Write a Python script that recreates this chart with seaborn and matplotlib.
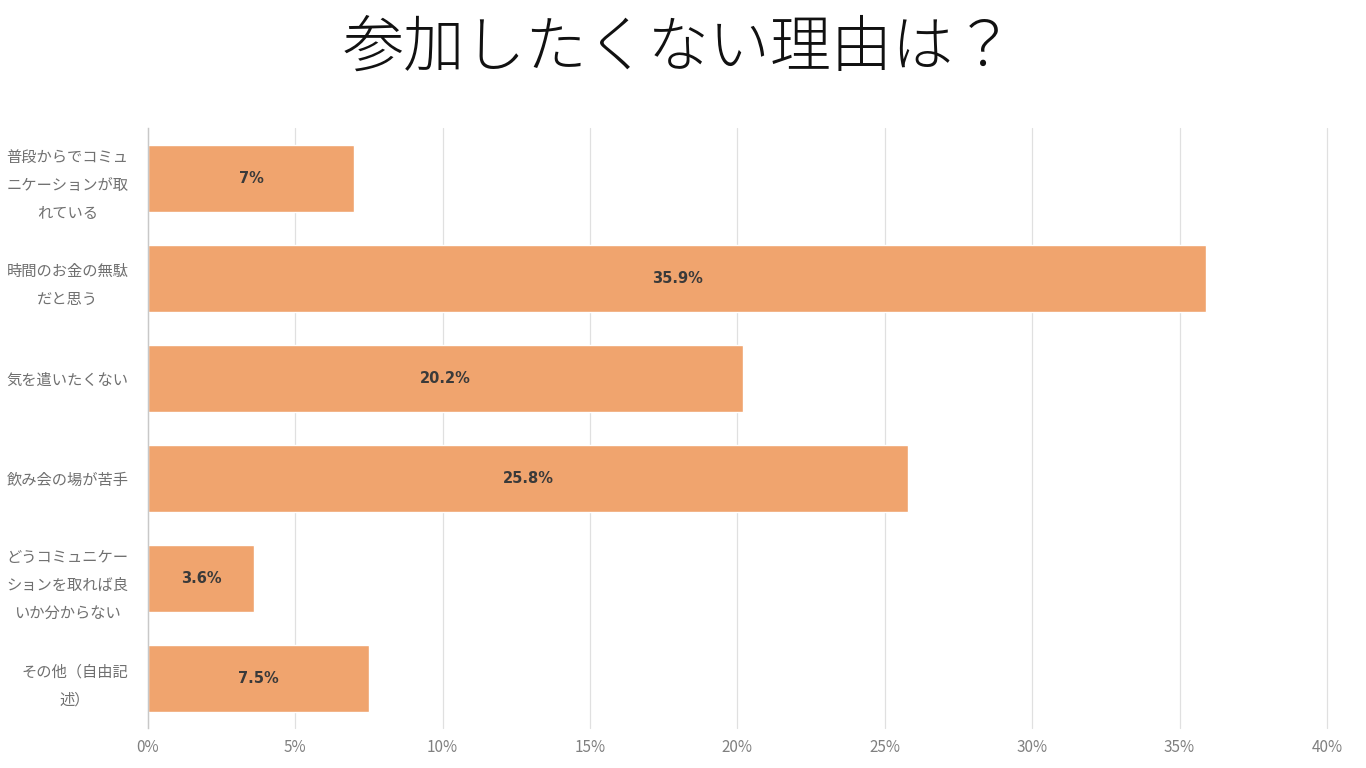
import matplotlib
matplotlib.use("Agg")
import matplotlib.pyplot as plt
import seaborn as sns
import pandas as pd

categories = [
    "普段からでコミュ\nニケーションが取\nれている",
    "時間のお金の無駄\nだと思う",
    "気を遣いたくない",
    "飲み会の場が苦手",
    "どうコミュニケー\nションを取れば良\nいか分からない",
    "その他（自由記\n述）",
]
values = [7.0, 35.9, 20.2, 25.8, 3.6, 7.5]
value_labels = ["7%", "35.9%", "20.2%", "25.8%", "3.6%", "7.5%"]
x_ticks = [0, 5, 10, 15, 20, 25, 30, 35, 40]
x_ticklabels = [f"{t}%" for t in x_ticks]
title = "参加したくない理由は？"

sns.set_theme(style="white")
plt.rcParams['font.family'] = ['Noto Sans CJK JP', 'DejaVu Sans']

df = pd.DataFrame({"cat": categories, "val": values})

fig = plt.figure(figsize=(13.66, 7.68), dpi=100)
ax = fig.add_axes([0.1083, 0.052, 0.8631, 0.781])

sns.barplot(data=df, x="val", y="cat", color="#F0A46E", saturation=1,
            width=0.67, ax=ax, zorder=3)

ax.set_xlim(0, 40)
ax.set_ylim(5.5, -0.5)
ax.set_xticks(x_ticks)
ax.set_xticklabels(x_ticklabels, color="#808080", fontsize=11)
ax.tick_params(axis="x", length=0, pad=8)
ax.tick_params(axis="y", length=0, pad=14)
ax.set_xlabel("")
ax.set_ylabel("")
for lab in ax.get_yticklabels():
    lab.set_multialignment("center")
    lab.set_color("#707070")
    lab.set_fontsize(11)
    lab.set_linespacing(1.85)

ax.grid(axis="x", color="#E0E0E0", linewidth=0.9, zorder=0)
ax.grid(axis="y", visible=False)
for line in ax.get_xgridlines():
    line.set_clip_on(False)
for s in ["top", "right", "bottom"]:
    ax.spines[s].set_visible(False)
ax.spines["left"].set_color("#C8C8C8")
ax.spines["left"].set_linewidth(1.0)
ax.spines["left"].set_zorder(4)

for i, (v, lbl) in enumerate(zip(values, value_labels)):
    ax.text(v / 2, i, lbl, ha="center", va="center", fontsize=10.5,
            fontweight="bold", color="#3A3A3A", zorder=5,
            family=["DejaVu Sans"])

fig.text(0.497, 0.936, title, ha="center", va="center", fontsize=44,
         color="#111111", fontweight="light")

fig.savefig("out.png", dpi=100)
